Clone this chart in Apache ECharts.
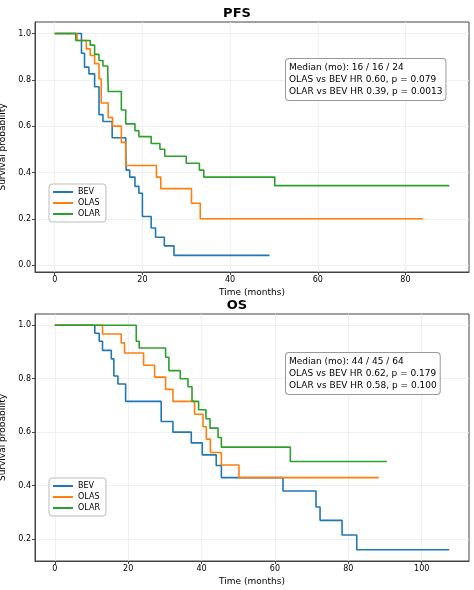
<!DOCTYPE html>
<html><head><meta charset="utf-8">
<script src="https://cdn.jsdelivr.net/npm/echarts@6/dist/echarts.min.js"></script>
<style>html,body{margin:0;padding:0;background:#fff}#c{width:474px;height:590px}</style>
</head><body><div id="c"></div>
<script>
const groups = ['BEV','OLAS','OLAR'];
const colors = ['#1f77b4','#ff7f0e','#2ca02c'];
// PFS step data [time, survival]
const pfsBEV = [[0,1],[6.1,0.915],[6.8,0.855],[7.8,0.826],[9.1,0.77],[10.1,0.65],[11,0.62],[13.1,0.55],[16.2,0.5],[16.3,0.41],[17.1,0.38],[18.3,0.34],[19.2,0.31],[20,0.21],[22,0.16],[23,0.12],[25,0.083],[27.2,0.042],[49,0.042]];
const pfsOLAS = [[0,1],[5.1,0.97],[7.2,0.934],[8.1,0.905],[9.1,0.87],[10.1,0.805],[10.6,0.70],[12.2,0.637],[13.2,0.6],[15.2,0.53],[16.2,0.43],[23.2,0.38],[24.2,0.33],[31.2,0.267],[33.2,0.2],[84,0.2]];
const pfsOLAR = [[0,1],[4.8,0.97],[8.1,0.95],[9.1,0.91],[10.1,0.884],[11,0.86],[12.1,0.835],[12.2,0.75],[15.2,0.67],[16.2,0.61],[18.3,0.58],[19.2,0.555],[22,0.525],[24,0.5],[25.1,0.47],[30,0.44],[33,0.41],[34,0.38],[50.2,0.343],[90,0.343]];
// OS step data
const osBEV = [[0,1],[10.9,0.97],[12.1,0.94],[13,0.906],[15.4,0.874],[16.1,0.81],[17.2,0.78],[19.3,0.715],[29,0.64],[32.2,0.6],[37.2,0.56],[40.2,0.515],[44,0.475],[45.4,0.43],[62.2,0.38],[71.2,0.32],[72.3,0.27],[78.3,0.215],[82.3,0.16],[107.5,0.16]];
const osOLAS = [[0,1],[13,0.967],[18.1,0.934],[19,0.896],[24.2,0.85],[27.2,0.806],[30.2,0.76],[32.2,0.715],[38.1,0.667],[40.4,0.62],[41.3,0.574],[42.4,0.524],[45.4,0.477],[50.2,0.43],[88.3,0.43]];
const osOLAR = [[0,1],[22.2,0.94],[23,0.915],[30.2,0.88],[31.1,0.83],[34.2,0.8],[36.3,0.77],[37.4,0.715],[39.2,0.684],[41.2,0.65],[42.3,0.615],[44.5,0.58],[45.4,0.544],[64.2,0.49],[90.5,0.49]];
const pfsXTicks = [0,20,40,60,80];
const osXTicks = [0,20,40,60,80,100];
const pfsYTicks = [0,0.2,0.4,0.6,0.8,1.0];
const osYTicks = [0.2,0.4,0.6,0.8,1.0];
const pfsNote = 'Median (mo): 16 / 16 / 24\nOLAS vs BEV HR 0.60, p = 0.079\nOLAR vs BEV HR 0.39, p = 0.0013';
const osNote = 'Median (mo): 44 / 45 / 64\nOLAS vs BEV HR 0.62, p = 0.179\nOLAR vs BEV HR 0.58, p = 0.100';

const F = 'DejaVu Sans';
const chart = echarts.init(document.getElementById('c'), null, {renderer:'canvas'});
function xAxis(idx, min, max, ticks){
  return {type:'value', gridIndex:idx, min, max, name:'Time (months)', nameLocation:'middle', nameGap:16,
    nameTextStyle:{fontFamily:F,fontSize:9,color:'#000'},
    axisLine:{onZero:false,lineStyle:{color:'#444'}}, axisTick:{customValues:ticks,length:3,lineStyle:{color:'#444'}},
    axisLabel:{customValues:ticks,fontFamily:F,fontSize:8,color:'#000',margin:4},
    splitLine:{show:true,lineStyle:{color:'#ececec',width:0.8}}};
}
function yAxis(idx, min, max, ticks){
  return {type:'value', gridIndex:idx, min, max, name:'Survival probability', nameLocation:'middle', nameGap:24,
    nameTextStyle:{fontFamily:F,fontSize:9,color:'#000'},
    axisLine:{show:true,onZero:false,lineStyle:{color:'#444'}}, axisTick:{show:true,customValues:ticks,length:3,lineStyle:{color:'#444'}},
    axisLabel:{customValues:ticks,fontFamily:F,fontSize:8,color:'#000',margin:4,formatter:v=>v.toFixed(1)},
    splitLine:{show:true,lineStyle:{color:'#ececec',width:0.8}}};
}
const all = [[pfsBEV,pfsOLAS,pfsOLAR],[osBEV,osOLAS,osOLAR]];
const series = [];
all.forEach((set,g)=>set.forEach((d,i)=>series.push({type:'line',name:groups[i],xAxisIndex:g,yAxisIndex:g,data:d,step:'end',
  showSymbol:false,symbol:'none',lineStyle:{width:1.6,color:colors[i]},itemStyle:{color:colors[i]}})));
function legend(top){
  return {data:groups,left:49,top,orient:'vertical',itemGap:3,itemWidth:20,itemHeight:2,icon:'rect',
    borderColor:'#bbb',borderWidth:1,borderRadius:3,padding:[4,6,4,4],backgroundColor:'#fff',
    textStyle:{fontFamily:F,fontSize:8,color:'#000'}};
}
function note(x,y,text){
  return {type:'text',left:x,top:y,z:10,style:{text,font:'9px "DejaVu Sans"',fill:'#000',lineHeight:12,
    backgroundColor:'#fff',borderColor:'#999',borderWidth:1,borderRadius:3,padding:[3,3,2,3]}};
}
const gridBase = {containLabel:false,outerBoundsMode:'none',show:true,borderColor:'#444',borderWidth:1,backgroundColor:'transparent'};
chart.setOption({
  animation:false,
  title:[{text:'PFS',left:'center',top:2,textStyle:{fontFamily:F,fontSize:13,fontWeight:'bold',color:'#000'}},
         {text:'OS',left:'center',top:294,textStyle:{fontFamily:F,fontSize:13,fontWeight:'bold',color:'#000'}}],
  grid:[Object.assign({left:35,right:5,top:22,height:250},gridBase),Object.assign({left:35,right:5,top:314,height:247},gridBase)],
  xAxis:[xAxis(0,-4.5,94.5,pfsXTicks), xAxis(1,-5.4,112.9,osXTicks)],
  yAxis:[yAxis(0,-0.03,1.05,pfsYTicks), yAxis(1,0.118,1.042,osYTicks)],
  legend:[legend(184),legend(478)],
  series,
  graphic:[note(285,58,pfsNote),note(285,352,osNote)]
});
</script></body></html>
